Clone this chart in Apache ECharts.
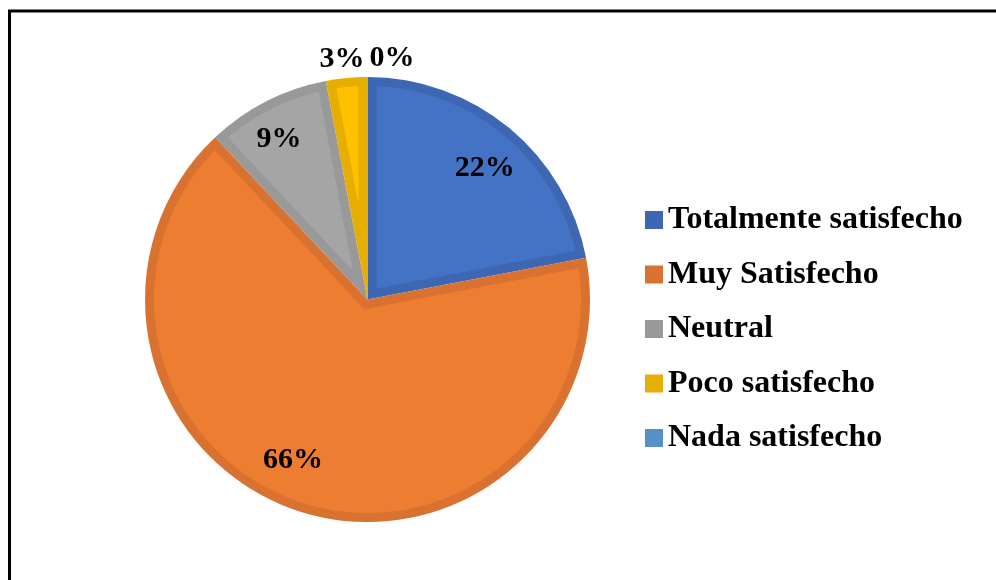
<!DOCTYPE html>
<html>
<head>
<meta charset="utf-8">
<script src="https://cdn.jsdelivr.net/npm/echarts@6/dist/echarts.min.js"></script>
<style>
  html, body { margin: 0; padding: 0; background: #ffffff; }
  #chart { width: 996px; height: 580px; }
</style>
</head>
<body>
<div id="chart"></div>
<script>
// Survey answers: share of respondents per satisfaction level (%)
const categories = ['Totalmente satisfecho', 'Muy Satisfecho', 'Neutral', 'Poco satisfecho', 'Nada satisfecho'];
const percentValues = [22, 66, 9, 3, 0];

// Light fill inside each slice and the darker rim around it
const fillColors = ['#4472C4', '#ED7D31', '#A5A5A5', '#FFC000', '#5B9BD5'];
const edgeColors = ['#3D67B3', '#D97230', '#999999', '#E6AE00', '#5590C8'];

// Where each percentage sits: inside the slice or just past its rim, with a small nudge
const labelPlacement = ['inside', 'inside', 'inside', 'outside', 'outside'];
const labelNudge = [[3, 7], [-19, -10], [-7, -1], [24, -7], [-3, -7]];

const FONT = '"Liberation Serif", "Times New Roman", serif';
const CENTER = [367.5, 299.5];
const RADIUS = 222.5;
const RIM = 9;

const chart = echarts.init(document.getElementById('chart'), null, { renderer: 'canvas' });

const baseData = categories.map((name, i) => ({
  name: name,
  value: percentValues[i],
  itemStyle: { color: edgeColors[i] }
}));

const labelData = categories.map((name, i) => ({
  name: name,
  value: percentValues[i],
  label: { position: labelPlacement[i], offset: labelNudge[i] }
}));

chart.setOption({
  animation: false,
  backgroundColor: '#ffffff',
  legend: {
    orient: 'vertical',
    left: 645,
    top: 204,
    padding: 0,
    itemWidth: 18,
    itemHeight: 18,
    itemGap: 22.5,
    icon: 'rect',
    selectedMode: false,
    data: categories.map((name, i) => ({ name: name, itemStyle: { color: edgeColors[i] } })),
    textStyle: {
      fontFamily: FONT,
      fontWeight: 'bold',
      fontSize: 32,
      lineHeight: 32,
      color: '#000000'
    }
  },
  series: [
    {
      // darker full-size pie: the rim of every slice
      type: 'pie',
      name: 'base',
      center: CENTER,
      radius: RADIUS,
      startAngle: 90,
      clockwise: true,
      avoidLabelOverlap: false,
      silent: true,
      label: { show: false },
      labelLine: { show: false },
      itemStyle: { borderWidth: 0 },
      emphasis: { disabled: true },
      data: baseData,
      z: 2
    },
    {
      // transparent twin carrying the percentage labels
      type: 'pie',
      name: 'labels',
      center: CENTER,
      radius: [130, RADIUS],
      startAngle: 90,
      clockwise: true,
      avoidLabelOverlap: false,
      silent: true,
      itemStyle: { color: 'rgba(0,0,0,0)', borderWidth: 0 },
      emphasis: { disabled: true },
      labelLine: { show: false, length: 12, length2: 0 },
      label: {
        show: true,
        formatter: '{c}%',
        fontFamily: FONT,
        fontWeight: 'bold',
        fontSize: 30,
        color: '#000000'
      },
      data: labelData,
      z: 10
    }
  ]
});

// Lighter inner part of each slice, inset by the rim width, built from the pie's own layout
function insetSlice(layout, d) {
  const s = layout.startAngle;
  const e = layout.endAngle;
  const span = e - s;
  if (span <= 1e-6) return null;
  const cx = layout.cx, cy = layout.cy, r = layout.r - d;
  const half = span / 2;
  const mid = s + half;
  const k = d / Math.sin(half);
  const pts = [[cx + k * Math.cos(mid), cy + k * Math.sin(mid)]];
  const a = Math.asin(Math.min(1, d / r));
  const a0 = s + a, a1 = e - a;
  if (a1 <= a0) return null;
  const steps = Math.max(4, Math.ceil((a1 - a0) / 0.02));
  for (let j = 0; j <= steps; j++) {
    const t = a0 + (a1 - a0) * j / steps;
    pts.push([cx + r * Math.cos(t), cy + r * Math.sin(t)]);
  }
  return pts;
}

const pieData = chart.getModel().getSeriesByIndex(0).getData();
const graphics = [];
for (let i = 0; i < categories.length; i++) {
  const pts = insetSlice(pieData.getItemLayout(i), RIM);
  if (!pts) continue;
  graphics.push({
    type: 'polygon',
    silent: true,
    z: 5,
    shape: { points: pts },
    style: { fill: fillColors[i] }
  });
}
// chart frame
graphics.push({
  type: 'rect',
  silent: true,
  z: 20,
  shape: { x: 9.5, y: 11, width: 1000, height: 600 },
  style: { fill: 'none', stroke: '#000000', lineWidth: 3 }
});

chart.setOption({ graphic: graphics });
</script>
</body>
</html>
